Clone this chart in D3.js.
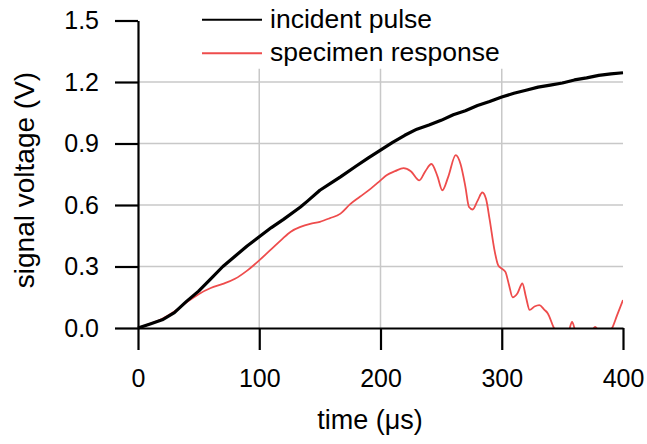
<!DOCTYPE html>
<html>
<head>
<meta charset="utf-8">
<script src="https://cdn.jsdelivr.net/npm/d3@7"></script>
<style>
  body { margin: 0; background: #fff; }
  text { font-family: "Liberation Sans", Arial, sans-serif; fill: #000; }
</style>
</head>
<body>
<div id="chart"></div>
<script>
// incident pulse (black)
const incidentTime = [0, 10, 20, 30, 40, 50, 60, 70, 80, 90, 100, 110, 120, 134, 140, 150, 160, 167, 180, 190, 200, 210, 220, 230, 240, 250, 260, 270, 280, 290, 300, 310, 320, 330, 340, 350, 360, 370, 380, 390, 400];
const incidentVolt = [0.0, 0.02, 0.04, 0.075, 0.13, 0.18, 0.24, 0.3, 0.35, 0.4, 0.445, 0.49, 0.53, 0.59, 0.62, 0.672, 0.71, 0.737, 0.79, 0.83, 0.868, 0.905, 0.94, 0.97, 0.99, 1.013, 1.04, 1.06, 1.085, 1.105, 1.127, 1.145, 1.16, 1.175, 1.185, 1.195, 1.21, 1.22, 1.232, 1.24, 1.245];

// specimen response (red)
const responseTime = [0, 5, 10, 20, 30, 40, 50, 60, 70, 80, 90, 100, 110, 118, 126, 134, 142, 150, 158, 167, 175, 183, 192, 200, 205, 212, 219, 225, 232, 237, 242, 247, 251, 256, 262, 266, 270, 273, 276, 280, 284, 287, 290, 294, 297, 300, 303, 306, 309, 313, 317, 320, 323, 327, 331, 335, 338, 343, 348, 355, 358, 361, 370, 377, 383, 391, 395, 400];
const responseVolt = [0.0, 0.01, 0.02, 0.045, 0.08, 0.125, 0.165, 0.195, 0.215, 0.24, 0.28, 0.33, 0.385, 0.429, 0.47, 0.493, 0.508, 0.518, 0.535, 0.558, 0.604, 0.64, 0.68, 0.72, 0.745, 0.765, 0.78, 0.765, 0.72, 0.765, 0.80, 0.74, 0.672, 0.74, 0.843, 0.80, 0.69, 0.59, 0.578, 0.62, 0.661, 0.63, 0.53, 0.38, 0.307, 0.29, 0.274, 0.21, 0.15, 0.17, 0.217, 0.15, 0.088, 0.105, 0.112, 0.09, 0.071, 0.0, -0.05, -0.02, 0.03, -0.02, -0.06, 0.005, -0.04, 0.0, 0.06, 0.136];

const xTicks = [0, 100, 200, 300, 400];
const yTicks = [0, 0.3, 0.6, 0.9, 1.2, 1.5];
const legendLabels = ["incident pulse", "specimen response"];
const colors = ["#000000", "#ee4c4c"];

const width = 647, height = 444;
const plotLeft = 138, plotRight = 623, plotTop = 20.5, plotBottom = 328;

const svg = d3.select("#chart").append("svg")
  .attr("width", width)
  .attr("height", height);

const x = d3.scaleLinear().domain([0, 400]).range([plotLeft, plotRight]);
const y = d3.scaleLinear().domain([0, 1.5]).range([plotBottom, plotTop]);

// grid
const grid = svg.append("g").attr("stroke", "#c8c8c8").attr("stroke-width", 1.5);
grid.selectAll(".hg")
  .data(yTicks.filter(d => d > 0 && d < 1.5))
  .enter().append("line")
  .attr("x1", plotLeft).attr("x2", plotRight)
  .attr("y1", d => y(d)).attr("y2", d => y(d));
grid.selectAll(".vg")
  .data(xTicks.filter(d => d > 0 && d < 400))
  .enter().append("line")
  .attr("x1", d => x(d)).attr("x2", d => x(d))
  .attr("y1", y(1.265)).attr("y2", plotBottom);

// clip
svg.append("clipPath").attr("id", "plot")
  .append("rect")
  .attr("x", plotLeft).attr("y", plotTop)
  .attr("width", plotRight - plotLeft).attr("height", plotBottom - plotTop);

const line = d3.line()
  .x(d => x(d[0]))
  .y(d => y(d[1]));

svg.append("path")
  .datum(d3.zip(responseTime, responseVolt))
  .attr("clip-path", "url(#plot)")
  .attr("fill", "none")
  .attr("stroke", colors[1])
  .attr("stroke-width", 1.8)
  .attr("stroke-linejoin", "round")
  .attr("d", line.curve(d3.curveMonotoneX));

svg.append("path")
  .datum(d3.zip(incidentTime, incidentVolt))
  .attr("fill", "none")
  .attr("stroke", colors[0])
  .attr("stroke-width", 3.2)
  .attr("stroke-linejoin", "round")
  .attr("d", line.curve(d3.curveLinear));

// axes
const yAxis = svg.append("g")
  .attr("transform", "translate(" + plotLeft + ",0)")
  .call(d3.axisLeft(y).tickValues(yTicks).tickFormat(d3.format(".1f"))
    .tickSize(23).tickSizeOuter(0).tickPadding(16));
const xAxis = svg.append("g")
  .attr("transform", "translate(0," + plotBottom + ")")
  .call(d3.axisBottom(x).tickValues(xTicks).tickFormat(d3.format("d"))
    .tickSize(22).tickSizeOuter(0).tickPadding(19));

[xAxis, yAxis].forEach(a => {
  a.selectAll("path, line").attr("stroke", "#000").attr("stroke-width", 2.2);
  a.selectAll("text").attr("font-size", 25).attr("font-family", "Liberation Sans, Arial, sans-serif").attr("fill", "#000");
});

// axis titles
svg.append("text")
  .attr("x", 370)
  .attr("y", 429)
  .attr("text-anchor", "middle")
  .attr("font-size", 27)
  .text("time (μs)");

svg.append("text")
  .attr("transform", "translate(33.5,180) rotate(-90)")
  .attr("text-anchor", "middle")
  .attr("font-size", 28)
  .text("signal voltage (V)");

// legend
const legend = svg.append("g");
legendLabels.forEach((lab, i) => {
  const ly = 19.7 + i * 33.6;
  legend.append("line")
    .attr("x1", 202).attr("x2", 262)
    .attr("y1", ly).attr("y2", ly)
    .attr("stroke", colors[i])
    .attr("stroke-width", 2);
  legend.append("text")
    .attr("x", 270).attr("y", ly + 7.8)
    .attr("font-size", 26.5)
    .text(lab);
});
</script>
</body>
</html>
